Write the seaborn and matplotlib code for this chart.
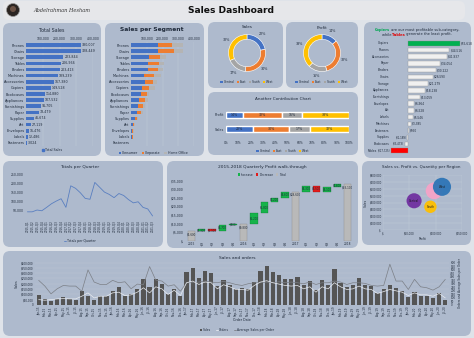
import matplotlib
matplotlib.use("Agg")
import matplotlib.pyplot as plt
from matplotlib.patches import FancyBboxPatch, Circle, Patch
from matplotlib.lines import Line2D
import numpy as np
import pandas as pd
import seaborn as sns

# ---------------- data ----------------
sub_categories = ["Phones", "Chairs", "Storage", "Tables", "Binders", "Machines", "Accessories",
                  "Copiers", "Bookcases", "Appliances", "Furnishings", "Paper", "Supplies", "Art",
                  "Envelopes", "Labels", "Fasteners"]
total_sales = [330007, 328449, 223844, 206966, 203413, 189239, 167380, 149528, 114880,
               107532, 91705, 78479, 46674, 27119, 16476, 12486, 3024]
consumer_sales = [169933, 172863, 113125, 105441, 108413, 80205, 87106, 67810, 61561,
                  53000, 46000, 40000, 24000, 14000, 8500, 6200, 1600]
corporate_sales = [91152, 99141, 70532, 70871, 60950, 67927, 51000, 46790, 38000,
                   34000, 30000, 24000, 15000, 8000, 4700, 3800, 900]
home_office_sales = [68922, 56445, 40187, 30654, 34050, 41107, 29274, 34928, 15319,
                     20532, 15705, 14479, 7674, 5119, 3276, 2486, 524]

regions = ["Central", "East", "South", "West"]
region_sales = [501240, 678781, 391722, 725458]
region_profit = [39706, 91523, 46749, 108418]

profit_categories = ["Copiers", "Phones", "Accessories", "Paper", "Binders", "Chairs", "Storage",
                     "Appliances", "Furnishings", "Envelopes", "Art", "Labels", "Machines",
                     "Fasteners", "Supplies", "Bookcases", "Tables"]
profit_values = [55618, 44516, 41937, 34054, 30222, 26590, 21279, 18138, 13059, 6964, 6528,
                 5546, 3385, 950, -1189, -3473, -17725]

quarter_totals = [40000, 40000, 50000, 46000, 65000, 85000, 100000, 113000, 65000, 185000,
                  171000, 146000, 115000, 110000, 204000, 177000, 150000, 137000, 119000,
                  142000, 131000, 108000, 90000, 96000, 65000, 56000, 17000]
quarter_labels = [f"{y}-Q{q}" for y in range(2015, 2022) for q in range(1, 5)][:len(quarter_totals)]

walk_labels = ["2015", "Q1", "Q2", "Q3", "Q4", "2016", "Q1", "Q2", "Q3", "Q4",
               "2017", "Q1", "Q2", "Q3", "Q4", "2018"]
walk_values = [5600, 1300, -1100, 3700, 300, 9800, 6200, 6800, 2200, 3600,
               28600, 3300, -3500, 3100, 1600, 33100]
walk_is_total = [True, False, False, False, False, True, False, False, False, False,
                 True, False, False, False, False, True]

bubble_regions = ["Central", "East", "South", "West"]
bubble_profit = [59000, 97000, 90000, 112000]
bubble_sales = [425000, 570000, 338000, 628000]
bubble_quantity = [8780, 10618, 6209, 12266]

monthly_sales = [98000, 54000, 35000, 60000, 73000, 54000, 51000, 133000, 86000, 44000,
                 89000, 86000, 133000, 171000, 89000, 102000, 152000, 248000, 171000, 241000,
                 194000, 102000, 149000, 89000, 311000, 346000, 251000, 318000, 302000, 175000,
                 235000, 184000, 152000, 156000, 152000, 219000, 324000, 365000, 311000, 279000,
                 241000, 241000, 260000, 184000, 222000, 137000, 235000, 187000, 337000, 210000,
                 165000, 184000, 257000, 191000, 178000, 114000, 146000, 187000, 156000, 130000,
                 79000, 121000, 86000, 86000, 67000, 117000, 51000]
monthly_orders = [76, 67, 76, 86, 90, 86, 86, 124, 171, 100, 124, 124, 171, 181, 133, 143, 181,
                  243, 171, 257, 228, 148, 209, 133, 314, 338, 290, 324, 314, 228, 286, 257,
                  219, 219, 209, 276, 324, 343, 314, 295, 276, 267, 276, 228, 257, 181, 257,
                  228, 314, 257, 219, 228, 267, 228, 219, 162, 190, 219, 200, 181, 133, 171,
                  143, 143, 124, 162, 100]
avg_sales_per_order = [348, 267, 157, 229, 276, 267, 267, 195, 495, 324, 290, 290, 348, 314,
                       328, 229, 295, 286, 543, 352, 338, 267, 286, 195, 314, 314, 324, 338,
                       324, 314, 333, 314, 290, 276, 300, 314, 314, 324, 314, 328, 314, 324,
                       314, 300, 324, 290, 314, 314, 338, 324, 290, 314, 314, 305, 276, 267,
                       276, 576, 338, 338, 219, 362, 257, 243, 210, 257, 362]
month_names = ["Jan", "Feb", "Mar", "Apr", "May", "Jun", "Jul", "Aug", "Sep", "Oct", "Nov", "Dec"]
month_labels = [f"{m}-{y}" for y in range(15, 21) for m in month_names][:len(monthly_sales)]

# ---------------- style ----------------
W, H = 474, 338
sns.set_theme(style="white")
plt.rcParams['font.family'] = ['DejaVu Sans']
BG = '#dfe3e9'
PANEL = '#aebacd'
TXT = '#1f2a3a'
BLUE, ORANGE, GRAY, YELLOW = '#4472c4', '#ed7d31', '#a5a5a5', '#ffc000'
SM = 2.5
NOEDGE = dict(edgecolor='none', linewidth=0, saturation=1)

fig = plt.figure(figsize=(W / 100, H / 100), dpi=100)
fig.patch.set_facecolor(BG)
bg = fig.add_axes([0, 0, 1, 1])
bg.set_xlim(0, W)
bg.set_ylim(H, 0)
bg.axis('off')


def rect(x0, y0, x1, y1):
    return [x0 / W, 1 - y1 / H, (x1 - x0) / W, (y1 - y0) / H]


def panel(x0, y0, x1, y1, color=PANEL, r=7):
    bg.add_patch(FancyBboxPatch((x0 + r, y0 + r), x1 - x0 - 2 * r, y1 - y0 - 2 * r,
                                boxstyle=f"round,pad={r}", fc=color, ec='none'))


def new_ax(x0, y0, x1, y1):
    ax = fig.add_axes(rect(x0, y0, x1, y1))
    ax.set_facecolor('none')
    for s in ax.spines.values():
        s.set_visible(False)
    ax.tick_params(labelsize=SM, length=0, pad=1, colors=TXT)
    return ax


def legend(x, y, handles, labels, fs=SM, spacing=1.2):
    fig.legend(handles, labels, loc='center', bbox_to_anchor=(x / W, 1 - y / H),
               ncol=len(labels), frameon=False, fontsize=fs, handlelength=0.7,
               handleheight=0.7, columnspacing=spacing, handletextpad=0.3, borderpad=0,
               labelcolor=TXT)


def sq(c):
    return Patch(facecolor=c, edgecolor='none')


def rich_line(xc, y, parts, fs):
    """Draw one centred line made of differently styled pieces."""
    renderer = fig.canvas.get_renderer()
    texts = [bg.text(0, y, s, fontsize=fs, color=c, weight=w, ha='left', va='center')
             for s, c, w in parts]
    widths = []
    for t in texts:
        bb = t.get_window_extent(renderer)
        widths.append(bb.width)
    x = xc - sum(widths) / 2
    for t, w in zip(texts, widths):
        t.set_x(x)
        x += w


# ---------------- panels ----------------
panel(3, 1, 465, 20, color='#e6e7ea', r=6)
panel(3, 23, 101, 156)
panel(105, 23, 204, 156)
panel(208, 22, 283, 88)
panel(286, 22, 358, 88)
panel(208, 92, 358, 155)
panel(364, 22, 471, 158)
panel(3, 161, 163, 247)
panel(167, 161, 358, 248)
panel(362, 161, 471, 245)
panel(3, 251, 471, 336)

# ---------------- header ----------------
bg.add_patch(Circle((13, 10), 6.5, fc='#2b2522', ec='#9a9a9a', lw=0.5))
bg.add_patch(Circle((13, 9), 3, fc='#6b5245', ec='none'))
bg.text(33, 10.5, "Abdelrahman Hesham", fontsize=3.6, family='DejaVu Serif', style='italic',
        color='#333333', va='center', ha='left')
bg.text(231, 10.5, "Sales Dashboard", fontsize=6.6, weight='bold', color='#111111',
        va='center', ha='center')

# ---------------- Total Sales ----------------
bg.text(52, 31, "Total Sales", fontsize=3.4, color=TXT, ha='center', va='center')
ax = new_ax(26, 42, 93, 146)
df = pd.DataFrame({'Sub-Category': sub_categories, 'Sales': total_sales})
sns.barplot(data=df, y='Sub-Category', x='Sales', color=BLUE, width=0.6, ax=ax, **NOEDGE)
ax.set_xlim(0, 400000)
ax.xaxis.tick_top()
ax.set_xticks([100000, 200000, 300000, 400000])
ax.set_xticklabels([f"{v:,}" for v in [100000, 200000, 300000, 400000]], fontsize=2.2)
ax.grid(axis='x', color='#c5cedb', lw=0.3)
ax.set_axisbelow(True)
ax.set_xlabel('')
ax.set_ylabel('')
for i, v in enumerate(total_sales):
    ax.text(v + 5000, i, f"{v:,}", fontsize=2.3, va='center', ha='left', color=TXT)
legend(52, 150, [Line2D([], [], color=BLUE, lw=0, marker='s', ms=1.5)], ["Total Sales"], fs=2.3)

# ---------------- Sales per Segment ----------------
bg.text(152, 30, "Sales per Segment", fontsize=4.3, weight='bold', color=TXT, ha='center', va='center')
ax = new_ax(131, 42, 194, 146)
stack_total = [c + k + h for c, k, h in zip(consumer_sales, corporate_sales, home_office_sales)]
stack_mid = [c + k for c, k in zip(consumer_sales, corporate_sales)]
for vals, col in [(stack_total, '#b4b4b4'), (stack_mid, ORANGE), (consumer_sales, BLUE)]:
    sns.barplot(x=vals, y=sub_categories, color=col, width=0.6, ax=ax, **NOEDGE)
ax.set_xlim(0, 400000)
ax.xaxis.tick_top()
ax.set_xticks([100000, 200000, 300000, 400000])
ax.set_xticklabels([f"{v:,}" for v in [100000, 200000, 300000, 400000]], fontsize=2.2)
ax.grid(axis='x', color='#c5cedb', lw=0.3)
ax.set_axisbelow(True)
legend(153, 153, [sq(BLUE), sq(ORANGE), sq('#b4b4b4')], ["Consumer", "Corporate", "Home Office"], fs=2.3)

# ---------------- donuts ----------------
region_colors = [BLUE, ORANGE, GRAY, YELLOW]


def donut(cx, cy, values, title, ty):
    bg.text(cx, ty, title, fontsize=3.0, color=TXT, ha='center', va='center')
    a = fig.add_axes(rect(cx - 22, cy - 22, cx + 22, cy + 22))
    a.set_facecolor('none')
    shares = [v / sum(values) * 100 for v in values]
    a.pie(shares, colors=region_colors, startangle=90, counterclock=False, radius=1.05,
          wedgeprops=dict(width=0.27, edgecolor='white', linewidth=0.4),
          labels=[f"{s:.0f}%" for s in shares], labeldistance=1.3,
          textprops=dict(fontsize=2.4, color=TXT, ha='center', va='center'))
    a.set_xlim(-1.25, 1.25)
    a.set_ylim(-1.25, 1.25)
    a.set_aspect('equal')
    legend(cx, 82, [sq(c) for c in region_colors], regions, fs=2.2, spacing=0.8)


donut(247, 53, region_sales, "Sales", 27)
donut(322, 53, region_profit, "Profit", 28)

# ---------------- Another Contribution Chart ----------------
bg.text(283, 99, "Another Contribution Chart", fontsize=3.0, color=TXT, ha='center', va='center')
ax = new_ax(226, 106, 349, 138)
rows = {"Profit": region_profit, "Sales": region_sales}
for r, (name, vals) in enumerate(rows.items()):
    shares = [v / sum(vals) * 100 for v in vals]
    left = 0
    for s, c in zip(shares, region_colors):
        ax.barh(r, s, left=left, color=c, height=0.42)
        ax.text(left + s / 2, r, f"{s:.0f}%", fontsize=2.3, ha='center', va='center', color=TXT)
        left += s
ax.set_yticks([0, 1])
ax.set_yticklabels(list(rows.keys()))
ax.set_ylim(1.6, -0.6)
ax.set_xlim(0, 100)
ax.set_xticks(range(0, 101, 10))
ax.set_xticklabels([f"{t}%" for t in range(0, 101, 10)], fontsize=2.2)
ax.tick_params(axis='x', pad=2)
legend(283, 151, [sq(c) for c in region_colors], regions, fs=2.2, spacing=0.8)

# ---------------- profit by sub-category ----------------
rich_line(417, 30, [("Copiers", '#00a651', 'bold'),
                    (" are our most profitable sub-category,", TXT, 'normal')], 2.6)
rich_line(417, 34.5, [("while ", TXT, 'normal'), ("Tables", '#e00000', 'bold'),
                      (" generate the least profit.", TXT, 'normal')], 2.6)
ax = new_ax(390, 40, 470, 154)
pal = ['#00b050'] + ['#f0f0f0'] * (len(profit_categories) - 2) + ['#ff0000']
sns.barplot(x=profit_values, y=profit_categories, hue=profit_categories, palette=pal,
            saturation=1, width=0.68, legend=False, ax=ax, edgecolor='#8c8c8c', linewidth=0.25)
ax.set_xlim(-19000, 66500)
ax.set_yticks([])
ax.set_xticks([])
ax.set_ylabel('')
for i, (c, v) in enumerate(zip(profit_categories, profit_values)):
    if v >= 0:
        ax.text(v + 900, i, f"${v:,}", fontsize=2.1, va='center', ha='left', color=TXT)
        ax.text(-19500, i, c, fontsize=2.2, va='center', ha='right', color=TXT, clip_on=False)
    else:
        ax.text(v - 400, i, f"$({-v:,})", fontsize=1.9, va='center', ha='right', color=TXT,
                clip_on=False)
        cx = -19500 if v > -5000 else v - 15500
        ax.text(cx, i, c, fontsize=2.2, va='center', ha='right', color=TXT, clip_on=False)

# ---------------- Totals per Quarter ----------------
bg.text(80, 167, "Totals per Quarter", fontsize=3.2, color=TXT, ha='center', va='center')
ax = new_ax(25, 172, 155, 219)
sns.lineplot(x=np.arange(len(quarter_totals)), y=quarter_totals, color='#5a7fc0', lw=0.6, ax=ax)
ax.set_ylim(0, 262000)
ax.set_yticks([50000, 100000, 150000, 200000, 250000])
ax.set_yticklabels([f"{v:,}" for v in [50000, 100000, 150000, 200000, 250000]], fontsize=2.2)
ax.set_xlim(-0.5, len(quarter_totals) - 0.5)
ax.set_xticks(np.arange(len(quarter_totals)))
ax.set_xticklabels(quarter_labels, rotation=90, fontsize=2.0)
legend(80, 241, [Line2D([], [], color='#5a7fc0', lw=0.6)], ["Totals per Quarter"], fs=2.3)

# ---------------- Quarterly profit walk-through ----------------
bg.text(262, 167, "2015-2018 Quarterly Profit walk-through", fontsize=3.2, color=TXT,
        ha='center', va='center')
ax = new_ax(185, 178, 354, 241)
running = 0
for i, (v, tot) in enumerate(zip(walk_values, walk_is_total)):
    if tot:
        ax.bar(i, v, width=0.72, color='#b9b9b9', edgecolor='#8e8e8e', linewidth=0.3)
        ax.text(i, v - 700, f"${v:,}", fontsize=2.0, ha='center', va='top', color=TXT)
        running = v
    else:
        bottom = running if v >= 0 else running + v
        ax.bar(i, abs(v), bottom=bottom, width=0.72,
               color='#16b34a' if v >= 0 else '#e31b1b', edgecolor='#0d6e2e' if v >= 0 else '#8a0f0f',
               linewidth=0.2)
        ax.text(i, bottom + abs(v) / 2, f"${abs(v):,}", fontsize=1.9, ha='center', va='center',
                color=TXT)
        running += v
ax.set_ylim(0, 36500)
ax.set_xlim(-0.6, len(walk_values) - 0.4)
ax.set_yticks(range(0, 35001, 5000))
ax.set_yticklabels(["$-"] + [f"${v:,}" for v in range(5000, 35001, 5000)], fontsize=2.2)
ax.set_xticks(range(len(walk_labels)))
ax.set_xticklabels(walk_labels, fontsize=2.1)
legend(262, 174.5, [sq('#16b34a'), sq('#e31b1b'), sq('#b9b9b9')],
       ["Increase", "Decrease", "Total"], fs=2.2, spacing=0.8)

# ---------------- bubble chart ----------------
bg.text(421, 167, "Sales vs. Profit vs. Quantity per Region", fontsize=2.9, color=TXT,
        ha='center', va='center')
ax = new_ax(383, 175, 462, 230)
dfb = pd.DataFrame({'Region': bubble_regions, 'Profit': bubble_profit, 'Sales': bubble_sales,
                    'Quantity': bubble_quantity})
sns.scatterplot(data=dfb, x='Profit', y='Sales', hue='Region', size='Quantity',
                sizes=(80, 170), palette=['#7030a0', '#f5a3c7', '#ffc000', '#2e75b6'],
                legend=False, edgecolor='none', alpha=0.95, ax=ax)
ax.set_xlim(0, 150000)
ax.set_ylim(0, 800000)
ax.set_xticks([0, 50000, 100000, 150000])
ax.set_xticklabels(["$-", "$50,000", "$100,000", "$150,000"], fontsize=1.9)
ax.set_yticks(range(0, 800001, 100000))
ax.set_yticklabels(["$-"] + [f"${v:,}" for v in range(100000, 800001, 100000)], fontsize=1.9)
ax.grid(axis='y', color='#c5cedb', lw=0.3)
ax.grid(axis='x', color='#c5cedb', lw=0.3)
ax.set_axisbelow(True)
ax.set_xlabel("Profit", fontsize=2.2, color=TXT, labelpad=1)
ax.set_ylabel("Sales", fontsize=2.2, color=TXT, labelpad=1)
for r, x, y in zip(bubble_regions, bubble_profit, bubble_sales):
    if r != "East":
        ax.text(x, y, r, fontsize=2.0, ha='center', va='center', color='#1a1a1a')

# ---------------- Sales and orders ----------------
bg.text(237, 258, "Sales and orders", fontsize=3.2, color=TXT, ha='center', va='center')
ax = new_ax(35, 262, 449, 305)
n = len(monthly_sales)
sns.barplot(x=month_labels, y=monthly_sales, color='#555555', width=0.68, ax=ax, **NOEDGE)
ax.set_ylim(0, 405000)
ax.set_yticks(range(0, 400001, 50000))
ax.set_yticklabels(["0"] + [f"${v:,}" for v in range(50000, 400001, 50000)], fontsize=2.0)
ax.set_xticks(range(n))
ax.set_xticklabels(month_labels, rotation=90, fontsize=2.0)
ax.grid(axis='y', color='#bdc7d6', lw=0.3)
ax.set_axisbelow(True)
ax.set_ylabel("Sales", fontsize=2.3, color=TXT, labelpad=2)
ax.set_xlabel("Order Date", fontsize=2.3, color=TXT, labelpad=1)
ax2 = ax.twinx()
ax2.set_facecolor('none')
for s in ax2.spines.values():
    s.set_visible(False)
sns.lineplot(x=np.arange(n), y=avg_sales_per_order, color='#7b7f86', lw=0.5, ax=ax2)
sns.lineplot(x=np.arange(n), y=monthly_orders, color='#e9ecf1', lw=0.5, ax=ax2)
ax2.set_ylim(0, 607)
ax2.set_yticks(range(0, 601, 50))
ax2.set_yticklabels([str(v) for v in range(0, 601, 50)], fontsize=2.0)
ax2.tick_params(length=0, pad=1, colors=TXT)
ax2.set_ylabel("Orders and Average Sales per Order", fontsize=2.0, color=TXT, labelpad=2)
ax.set_xlim(-0.6, n - 0.4)
legend(237, 330, [sq('#555555'), Line2D([], [], color='#e9ecf1', lw=0.6),
                  Line2D([], [], color='#7b7f86', lw=0.6)],
       ["Sales", "Orders", "Average Sales per Order"], fs=2.2, spacing=1.5)

fig.savefig("out.png", dpi=100, facecolor=BG)
